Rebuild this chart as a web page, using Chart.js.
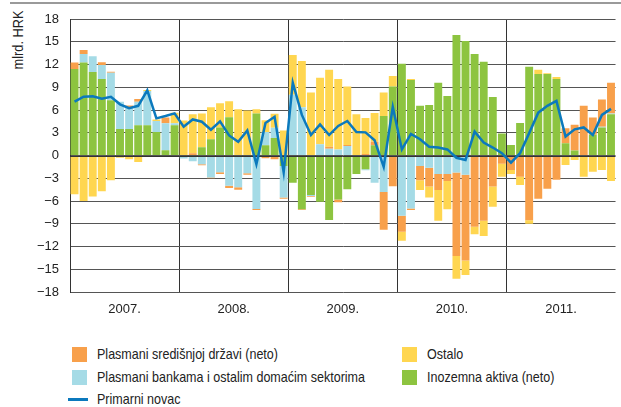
<!DOCTYPE html>
<html>
<head>
<meta charset="utf-8">
<script src="https://cdn.jsdelivr.net/npm/chart.js@4"></script>
<style>
  body { margin: 0; background: #fff; }
  #wrap { position: relative; width: 621px; height: 407px; font-family: "Liberation Sans Narrow", "Liberation Sans", Arial, sans-serif; color: #222; }
  .topline { position: absolute; left: 10px; top: 2px; width: 611px; border-top: 2px solid #9a9a9a; }
  .ytitle { position: absolute; left: 17px; top: 40px; transform: translate(-50%, -50%) rotate(-90deg) scaleX(0.85); font-size: 15px; white-space: nowrap; }
  canvas { position: absolute; left: 0; top: 0; }
  .leg { position: absolute; font-size: 15px; line-height: 18px; white-space: nowrap; transform: scaleX(0.835); transform-origin: 0 50%; }
  .sw { position: absolute; width: 15px; height: 15px; }
  .ln { position: absolute; width: 20px; height: 3px; }
</style>
</head>
<body>
<div id="wrap">
  <div class="topline"></div>
  <div class="ytitle">mlrd. HRK</div>
  <canvas id="chart" width="621" height="330"></canvas>
  <div id="legend"></div>
</div>
<script>
const years = ['2007.', '2008.', '2009.', '2010.', '2011.'];
const months = years.flatMap(y => Array.from({ length: 12 }, (_, m) => y + (m + 1)));

// Inozemna aktiva (neto)
const foreignAssets = [
  11.4, 12.25, 11.0, 10.1, 7.3, 3.5, 3.5, 4.0, 4.0, 3.1, 0.7, 4.0,
  0, 0, 1.1, 2.15, 3.7, 5.05, 0, 0, 5.55, 1.35, 2.3, -1.4,
  -3.6, -7.1, -5.2, -6.1, -8.5, -5.8, -4.45, -2.45, -1.8, 1.35, 5.2, 9.1,
  12.1, 9.95, 6.55, 6.65, 9.6, 7.85, 15.9, 15.1, 13.4, 12.35, 7.7, 2.9,
  1.4, 4.3, 11.7, 10.75, 10.75, 10.1, 1.6, 0.65, 0, 2.75, 3.7, 5.45
];
// Plasmani bankama i ostalim domaćim sektorima
const bankClaims = [
  -0.15, 1.15, 2.1, 1.85, 3.6, 3.6, 2.9, 3.1, 4.5, 1.45, 3.55, 0.25,
  -0.4, -0.75, -1.15, -2.9, -2.2, -4.0, -4.2, -2.35, -7.05, 1.75, 1.35, -4.15,
  8.0, 6.35, -0.15, 1.5, 0.9, 0.8, 1.25, 0, -0.15, -3.6, -4.8, 0,
  -7.95, -7.0, -1.4, -1.6, -2.45, -2.45, -2.25, -2.55, 0, 0, 0, 0,
  0, 0, 0, 0, 0, 0, 0, 0, 0, 0, 0.1, 0.1
];
// Plasmani središnjoj državi (neto)
const govClaims = [
  0.88, 0.5, 0, 0.35, 0.15, 0, 0.2, 0.35, 0, 0, 0.75, 0,
  0, 0.3, -0.15, -0.1, -0.25, -0.3, -0.3, -0.2, -0.15, -0.35, -0.5, -0.15,
  0, -0.1, -0.1, 0, 0.25, -0.35, 0.15, 0, 0.2, 0.45, -5.0, -4.05,
  -2.1, -0.2, -1.85, -2.5, -2.1, -0.9, -11.0, -11.3, -9.4, -8.6, -4.1, -1.1,
  -1.9, -2.8, -8.55, -5.7, -4.4, -3.2, 2.0, 3.4, 6.55, 2.25, 3.6, 4.05
];
// Ostalo
const other = [
  -4.95, -6.0, -5.4, -4.7, -3.25, -0.3, -0.5, -0.85, 0.15, 0.2, 0, 1.4,
  4.6, 5.15, 4.45, 4.2, 3.2, 2.1, 6.1, 5.95, 0.55, 1.55, 1.85, 3.3,
  5.25, 6.1, 8.3, 8.75, 10.15, 9.3, 7.7, 5.45, 4.75, 3.8, 3.1, 1.4,
  -1.2, 0.15, -1.3, -1.45, -4.05, -3.75, -3.0, -1.9, -1.0, -2.0, -2.65, -1.7,
  -0.55, -1.1, -0.45, 0.55, 0.1, 0.25, -1.25, -0.6, -2.8, -2.15, -1.9, -3.35
];
// Primarni novac
const reserveMoney = [
  7.1, 7.75, 7.8, 7.5, 7.75, 6.75, 6.25, 6.55, 8.6, 4.9, 5.2, 5.55,
  3.8, 4.75, 4.45, 3.4, 4.5, 2.65, 1.8, 3.3, -1.15, 4.3, 5.1, -2.2,
  9.6, 5.35, 2.7, 4.1, 2.7, 3.9, 4.55, 3.1, 3.05, 2.0, -1.5, 6.4,
  0.8, 2.85, 2.15, 1.15, 1.05, 0.8, -0.3, -0.6, 3.15, 1.7, 1.05, 0.3,
  -0.95, 0.3, 2.95, 5.65, 6.55, 7.2, 2.5, 3.45, 3.7, 2.7, 5.35, 6.15
];

const colors = {
  orange: '#f8a04b',
  yellow: '#ffd650',
  blue: '#a5dbe6',
  green: '#8dc440',
  line: '#0b79bd'
};

Chart.defaults.font = { family: '"Liberation Sans Narrow", "Liberation Sans", Arial, sans-serif', size: 13 };
Chart.defaults.color = '#222';

const barOpts = { type: 'bar', stack: 'bars', order: 1, barPercentage: 0.87, categoryPercentage: 1, borderWidth: 0 };

// the zero line sits over the bars but under the line series
const zeroLine = {
  id: 'zeroLine',
  beforeDatasetDraw(chart, args) {
    if (args.meta.type !== 'line') return;
    const { ctx, chartArea, scales } = chart;
    const py = Math.round(scales.y.getPixelForValue(0)) + 0.5;
    ctx.save();
    ctx.strokeStyle = '#333';
    ctx.lineWidth = 1;
    ctx.beginPath();
    ctx.moveTo(chartArea.left, py);
    ctx.lineTo(chartArea.right, py);
    ctx.stroke();
    ctx.restore();
  }
};

new Chart(document.getElementById('chart'), {
  data: {
    labels: months,
    datasets: [
      { ...barOpts, label: 'Inozemna aktiva (neto)', data: foreignAssets, backgroundColor: colors.green },
      { ...barOpts, label: 'Plasmani bankama i ostalim domaćim sektorima', data: bankClaims, backgroundColor: colors.blue },
      { ...barOpts, label: 'Plasmani središnjoj državi (neto)', data: govClaims, backgroundColor: colors.orange },
      { ...barOpts, label: 'Ostalo', data: other, backgroundColor: colors.yellow },
      {
        type: 'line', stack: 'line', order: 0, label: 'Primarni novac', data: reserveMoney,
        borderColor: colors.line, borderWidth: 2.5, pointRadius: 0, tension: 0, fill: false
      }
    ]
  },
  options: {
    responsive: false,
    animation: false,
    layout: { padding: { top: 19, right: 0, left: 0, bottom: 0 } },
    plugins: { legend: { display: false }, tooltip: { enabled: false } },
    scales: {
      x: {
        stacked: true,
        grid: {
          offset: true,
          drawTicks: false,
          color: ctx => (ctx.index % 12 === 0 ? '#333' : 'rgba(0,0,0,0)')
        },
        border: { display: false },
        ticks: {
          autoSkip: false,
          maxRotation: 0,
          padding: 10,
          labelOffset: 4.59,
          callback: (v, i) => (i % 12 === 5 ? years[Math.floor(i / 12)] : '')
        },
        afterFit: s => { s.height = 38; }
      },
      y: {
        stacked: true,
        min: -18,
        max: 18,
        grid: { color: '#555', drawTicks: false },
        border: { color: '#333' },
        ticks: {
          stepSize: 3,
          padding: 11,
          callback: v => (v < 0 ? '\u2212' + Math.abs(v) : String(v))
        },
        afterFit: s => { s.width = 70; }
      }
    }
  },
  plugins: [zeroLine]
});

// legend, laid out in two columns like the original
const legendItems = [
  { label: 'Plasmani središnjoj državi (neto)', color: colors.orange, col: 0, row: 0 },
  { label: 'Ostalo', color: colors.yellow, col: 1, row: 0 },
  { label: 'Plasmani bankama i ostalim domaćim sektorima', color: colors.blue, col: 0, row: 1 },
  { label: 'Inozemna aktiva (neto)', color: colors.green, col: 1, row: 1 },
  { label: 'Primarni novac', color: colors.line, col: 0, row: 2, line: true }
];
const colX = [72, 402];
const rowY = [354, 377, 399];
const legend = document.getElementById('legend');
legendItems.forEach(it => {
  const mark = document.createElement('div');
  if (it.line) {
    mark.className = 'ln';
    mark.style.left = (colX[it.col] - 4) + 'px';
    mark.style.top = (rowY[it.row] - 1.5) + 'px';
  } else {
    mark.className = 'sw';
    mark.style.left = colX[it.col] + 'px';
    mark.style.top = (rowY[it.row] - 7.5) + 'px';
  }
  mark.style.background = it.color;
  legend.appendChild(mark);
  const txt = document.createElement('div');
  txt.className = 'leg';
  txt.textContent = it.label;
  txt.style.left = (colX[it.col] + 25) + 'px';
  txt.style.top = (rowY[it.row] - 9) + 'px';
  legend.appendChild(txt);
});
</script>
</body>
</html>
